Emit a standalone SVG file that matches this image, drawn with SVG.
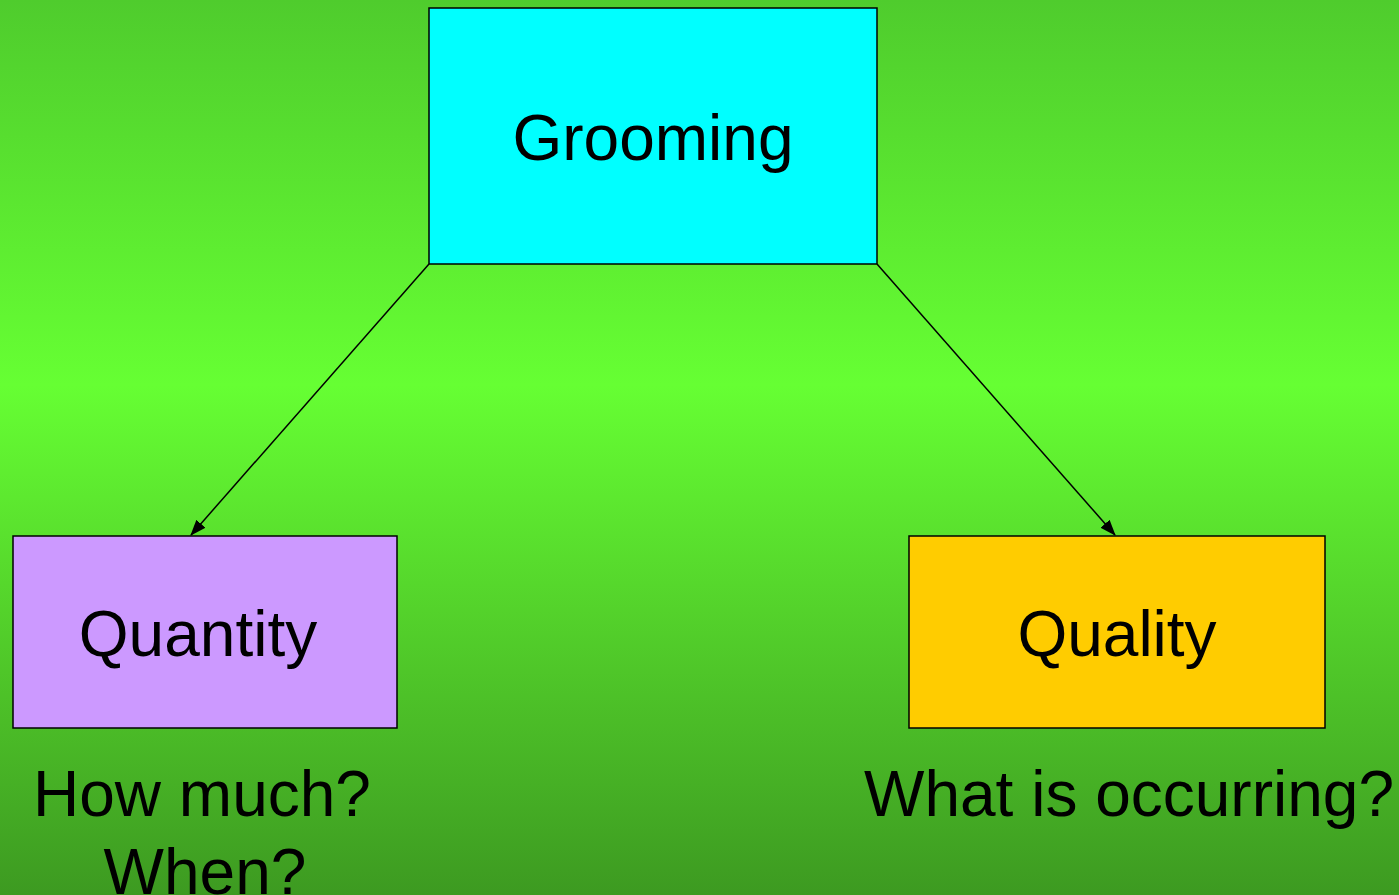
<svg xmlns="http://www.w3.org/2000/svg" width="1399" height="895" viewBox="0 0 1399 895">
<style>
.box{stroke:#000;stroke-width:1.5}
.t{font-family:"Liberation Sans",Arial,sans-serif;font-size:64px;fill:#000;text-anchor:middle}
.c{stroke:#000;stroke-width:1.5;fill:none;marker-end:url(#ah)}
</style>
<defs>
<linearGradient id="bg" x1="0" y1="0" x2="0" y2="1">
<stop offset="0" stop-color="#4fcc2d"/>
<stop offset="0.43" stop-color="#66ff33"/>
<stop offset="1" stop-color="#3d9a21"/>
</linearGradient>
<marker id="ah" markerWidth="16" markerHeight="12" refX="15" refY="6" orient="auto" markerUnits="userSpaceOnUse">
<path d="M0,0 L16,6 L0,12 Z" fill="#000"/>
</marker>
</defs>
<rect x="0" y="0" width="1399" height="895" fill="url(#bg)"/>
<g id="connectors">
<line class="c" x1="429" y1="264" x2="191" y2="535"/>
<line class="c" x1="877" y1="264" x2="1115" y2="535"/>
</g>
<g id="grooming">
<rect class="box" x="429" y="8" width="448" height="256" fill="#00ffff"/>
<text class="t" x="653" y="160">Grooming</text>
</g>
<g id="quantity">
<rect class="box" x="13" y="536" width="384" height="192" fill="#cc99ff"/>
<text class="t" x="198" y="656">Quantity</text>
</g>
<g id="quality">
<rect class="box" x="909" y="536" width="416" height="192" fill="#ffcc00"/>
<text class="t" x="1117" y="656">Quality</text>
</g>
<g id="quantity-note">
<text class="t" x="202" y="816">How much?</text>
<text class="t" x="205" y="894">When?</text>
</g>
<g id="quality-note">
<text class="t" x="1129" y="816">What is occurring?</text>
</g>
</svg>
